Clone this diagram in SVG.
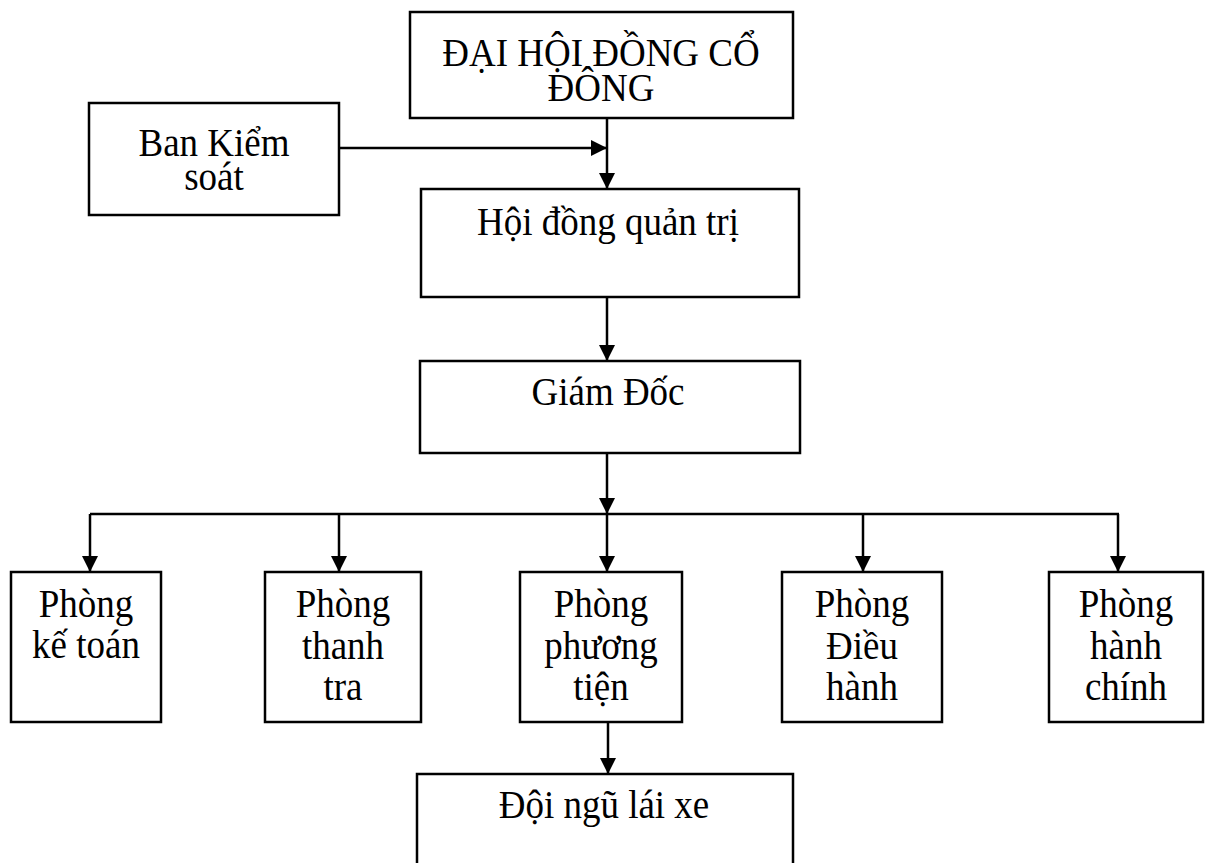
<svg xmlns="http://www.w3.org/2000/svg" width="1208" height="863" viewBox="0 0 1208 863">
<style>
.box{fill:#fff;stroke:#000;stroke-width:2.5}
.t{font-family:"Liberation Serif","Times New Roman",serif;font-size:37px;fill:#000;text-anchor:middle}
.c{fill:none;stroke:#000;stroke-width:2.5}
</style>
<defs>
<marker id="ah" markerUnits="userSpaceOnUse" markerWidth="16" markerHeight="16" viewBox="0 0 16 16" refX="16" refY="8" orient="auto">
<path d="M0,0 L16,8 L0,16 Z" fill="#000"/>
</marker>
</defs>
<rect width="1208" height="863" fill="#fff"/>
<g id="connectors">
<line class="c" x1="339" y1="148" x2="607" y2="148" marker-end="url(#ah)"/>
<line class="c" x1="607" y1="118" x2="607" y2="189" marker-end="url(#ah)"/>
<line class="c" x1="607" y1="297" x2="607" y2="361" marker-end="url(#ah)"/>
<line class="c" x1="607" y1="453" x2="607" y2="514" marker-end="url(#ah)"/>
<line class="c" x1="90" y1="514" x2="1119" y2="514"/>
<line class="c" x1="90" y1="514" x2="90" y2="572" marker-end="url(#ah)"/>
<line class="c" x1="339" y1="514" x2="339" y2="572" marker-end="url(#ah)"/>
<line class="c" x1="607" y1="514" x2="607" y2="572" marker-end="url(#ah)"/>
<line class="c" x1="863" y1="514" x2="863" y2="572" marker-end="url(#ah)"/>
<line class="c" x1="1118" y1="514" x2="1118" y2="572" marker-end="url(#ah)"/>
<line class="c" x1="608" y1="722" x2="608" y2="774" marker-end="url(#ah)"/>
</g>
<g id="dhdcd">
<rect class="box" x="410" y="12" width="383" height="106"/>
<text class="t" transform="translate(601,66) scale(1,1.1)">ĐẠI HỘI ĐỒNG CỔ</text>
<text class="t" transform="translate(601,101) scale(1,1.1)">ĐÔNG</text>
</g>
<g id="bks">
<rect class="box" x="89" y="103" width="250" height="112"/>
<text class="t" transform="translate(214,156) scale(1,1.1)">Ban Kiểm</text>
<text class="t" transform="translate(214,190) scale(1,1.1)">soát</text>
</g>
<g id="hdqt">
<rect class="box" x="421" y="189" width="378" height="108"/>
<text class="t" transform="translate(608,235) scale(1,1.1)">Hội đồng quản trị</text>
</g>
<g id="gd">
<rect class="box" x="420" y="361" width="380" height="92"/>
<text class="t" transform="translate(608,405) scale(1,1.1)">Giám Đốc</text>
</g>
<g id="pkt">
<rect class="box" x="11" y="572" width="150" height="150"/>
<text class="t" transform="translate(86,617) scale(1,1.1)">Phòng</text>
<text class="t" transform="translate(86,658) scale(1,1.1)">kế toán</text>
</g>
<g id="ptt">
<rect class="box" x="265" y="572" width="156" height="150"/>
<text class="t" transform="translate(343,617) scale(1,1.1)">Phòng</text>
<text class="t" transform="translate(343,659) scale(1,1.1)">thanh</text>
<text class="t" transform="translate(343,700) scale(1,1.1)">tra</text>
</g>
<g id="ppt">
<rect class="box" x="520" y="572" width="162" height="150"/>
<text class="t" transform="translate(601,617) scale(1,1.1)">Phòng</text>
<text class="t" transform="translate(601,659) scale(1,1.1)">phương</text>
<text class="t" transform="translate(601,700) scale(1,1.1)">tiện</text>
</g>
<g id="pdh">
<rect class="box" x="782" y="572" width="160" height="150"/>
<text class="t" transform="translate(862,617) scale(1,1.1)">Phòng</text>
<text class="t" transform="translate(862,659) scale(1,1.1)">Điều</text>
<text class="t" transform="translate(862,700) scale(1,1.1)">hành</text>
</g>
<g id="phc">
<rect class="box" x="1049" y="572" width="154" height="150"/>
<text class="t" transform="translate(1126,617) scale(1,1.1)">Phòng</text>
<text class="t" transform="translate(1126,659) scale(1,1.1)">hành</text>
<text class="t" transform="translate(1126,700) scale(1,1.1)">chính</text>
</g>
<g id="dnlx">
<rect class="box" x="417" y="774" width="376" height="110"/>
<text class="t" transform="translate(604,818) scale(1,1.1)">Đội ngũ lái xe</text>
</g>
</svg>
